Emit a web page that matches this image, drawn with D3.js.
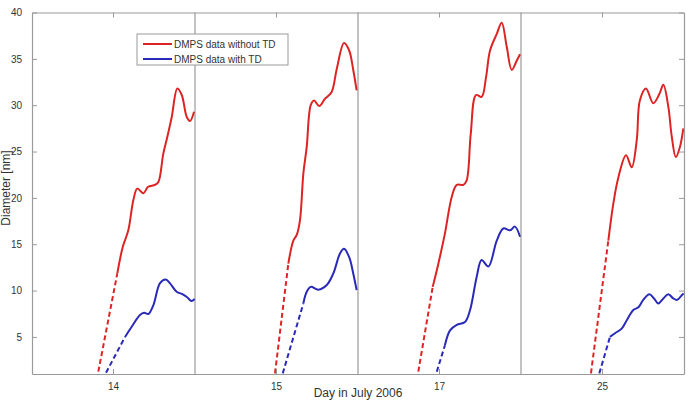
<!DOCTYPE html>
<html>
<head>
<meta charset="utf-8">
<script src="https://cdn.jsdelivr.net/npm/d3@7"></script>
<style>
  html, body { margin: 0; padding: 0; background: #fff; }
  svg { display: block; font-family: "Liberation Sans", Arial, sans-serif; }
</style>
</head>
<body>
<svg id="chart" width="692" height="400"></svg>
<script>
// ---- data ----
const days = ["14", "15", "17", "25"];
const yTicks = [5, 10, 15, 20, 25, 30, 35, 40];
const seriesNames = ["DMPS data without TD", "DMPS data with TD"];
const dashedPoints = 2; // leading points of each curve drawn dashed

// hour of day (within each day's panel) and diameter [nm]
const redHours = [
  [9.76, 12.56, 13.36, 14.18, 14.92, 15.5, 16.4, 17.1, 18.1, 18.6, 19.34, 19.93, 20.57, 21.4, 22.05, 22.8, 23.27, 23.86],
  [11.78, 13.74, 14.48, 14.98, 15.46, 15.95, 16.45, 17.04, 17.53, 18.3, 19.15, 20.1, 20.87, 21.94, 22.7, 23.3, 23.8],
  [8.88, 11.0, 11.83, 12.81, 13.8, 14.54, 15.5, 16.0, 16.6, 17.38, 18.2, 18.85, 19.44, 20.43, 21.16, 21.9, 22.64, 23.37, 23.86],
  [10.3, 12.86, 13.6, 14.3, 15.46, 16.3, 17.04, 17.5, 18.4, 19.48, 20.37, 20.96, 21.7, 22.2, 22.8, 23.4, 23.9]
];
const redValues = [
  [1.25, 11.85, 14.7, 16.5, 19.75, 21.0, 20.5, 21.2, 21.4, 21.7, 24.8, 26.6, 28.7, 31.8, 31.1, 28.7, 28.3, 29.3],
  [1.07, 12.9, 15.4, 16.0, 17.6, 22.6, 25.5, 30.0, 30.5, 29.9, 30.7, 31.4, 33.9, 36.7, 35.9, 33.8, 31.6],
  [1.25, 10.4, 12.9, 16.2, 20.1, 21.4, 21.4, 21.9, 26.9, 31.1, 30.9, 33.0, 35.9, 37.7, 38.9, 36.3, 33.8, 34.8, 35.5],
  [1.07, 15.4, 19.4, 22.1, 24.6, 23.3, 26.2, 30.5, 31.8, 30.2, 31.2, 32.2, 29.8, 26.6, 24.4, 25.5, 27.5]
];
const blueHours = [
  [10.9, 13.7, 14.68, 15.9, 16.5, 17.13, 17.86, 18.85, 19.7, 20.3, 21.3, 22.2, 22.8, 23.5, 23.95],
  [12.92, 15.95, 16.45, 17.04, 18.16, 19.4, 20.37, 21.35, 21.94, 22.7, 23.3, 23.8],
  [11.6, 12.8, 13.55, 14.54, 15.76, 16.5, 17.48, 18.2, 19.2, 20.43, 21.4, 22.39, 23.1, 23.86],
  [11.53, 13.1, 13.84, 14.83, 15.57, 16.54, 17.28, 18.0, 18.9, 19.59, 20.22, 20.96, 21.7, 22.43, 23.0, 23.67, 23.95]
];
const blueValues = [
  [1.14, 5.0, 6.1, 7.36, 7.6, 7.47, 8.4, 10.8, 11.2, 10.8, 9.87, 9.6, 9.3, 8.87, 9.1],
  [1.07, 8.6, 9.87, 10.4, 10.1, 10.6, 11.85, 14.0, 14.5, 13.6, 11.85, 10.05],
  [1.25, 4.1, 5.7, 6.3, 6.6, 7.9, 11.5, 13.3, 12.6, 15.4, 16.7, 16.5, 16.9, 15.8],
  [1.07, 5.0, 5.4, 5.9, 6.8, 7.9, 8.2, 9.0, 9.6, 9.15, 8.6, 9.15, 9.6, 9.15, 9.0, 9.5, 9.7]
];

// ---- layout ----
const W = 692, H = 400;
const margin = { top: 12.5, right: 8, bottom: 26, left: 32 };
const svg = d3.select("#chart");
const innerW = W - margin.left - margin.right;
const innerH = H - margin.top - margin.bottom;
const g = svg.append("g").attr("transform", `translate(${margin.left},${margin.top})`);

const axisColor = "#9a9a9a";
const textColor = "#333";
const red = "#dd2424";
const blue = "#2a2ab8";

const xDay = d3.scaleBand().domain(days).range([0, innerW]).paddingInner(0).paddingOuter(0);
const xHour = d3.scaleLinear().domain([0, 24]).range([0, xDay.bandwidth()]);
const y = d3.scaleLinear().domain([1, 40]).range([innerH, 0]);

// clip
svg.append("defs").append("clipPath").attr("id", "panelClip")
  .append("rect").attr("x", 0).attr("y", 0).attr("width", xDay.bandwidth()).attr("height", innerH);

// panel separators
g.selectAll("line.sep").data(days.slice(1)).join("line")
  .attr("class", "sep")
  .attr("x1", d => xDay(d)).attr("x2", d => xDay(d))
  .attr("y1", 0).attr("y2", innerH)
  .attr("stroke", axisColor).attr("stroke-width", 1.2);

// curves
const line = d3.line().x(d => xHour(d[0])).y(d => y(d[1])).curve(d3.curveCatmullRom.alpha(0.5));
const series = [
  { hours: redHours, values: redValues, color: red },
  { hours: blueHours, values: blueValues, color: blue }
];
days.forEach((day, i) => {
  const pg = g.append("g").attr("transform", `translate(${xDay(day)},0)`)
    .append("g").attr("clip-path", "url(#panelClip)");
  series.forEach(s => {
    const pts = s.hours[i].map((h, k) => [h, s.values[i][k]]);
    pg.append("path")
      .attr("d", line(pts.slice(0, dashedPoints)))
      .attr("fill", "none").attr("stroke", s.color).attr("stroke-width", 2)
      .attr("stroke-dasharray", "5,3");
    pg.append("path")
      .attr("d", line(pts.slice(dashedPoints - 1)))
      .attr("fill", "none").attr("stroke", s.color).attr("stroke-width", 2)
      .attr("stroke-linejoin", "round");
  });
});

// axes (MATLAB-style box with inward ticks)
function styleAxis(sel, showText) {
  sel.select(".domain").attr("stroke", axisColor).attr("stroke-width", 1.2);
  sel.selectAll(".tick line").attr("stroke", axisColor).attr("stroke-width", 1);
  sel.selectAll(".tick text").attr("fill", textColor).attr("font-size", 10)
    .style("display", showText ? null : "none");
}
g.append("g").attr("transform", `translate(0,${innerH})`)
  .call(d3.axisBottom(xDay).tickSizeInner(-5).tickSizeOuter(0).tickPadding(9))
  .call(sel => styleAxis(sel, true));
g.append("g")
  .call(d3.axisTop(xDay).tickSizeInner(-5).tickSizeOuter(0))
  .call(sel => styleAxis(sel, false));
g.append("g")
  .call(d3.axisLeft(y).tickValues(yTicks).tickSizeInner(-5).tickSizeOuter(0).tickPadding(10).tickFormat(d3.format("d")))
  .call(sel => styleAxis(sel, true));
g.append("g").attr("transform", `translate(${innerW},0)`)
  .call(d3.axisRight(y).tickValues(yTicks).tickSizeInner(-5).tickSizeOuter(0))
  .call(sel => styleAxis(sel, false));

// axis titles
svg.append("text")
  .attr("x", margin.left + innerW / 2).attr("y", 396.5)
  .attr("text-anchor", "middle").attr("fill", textColor).attr("font-size", 12)
  .text("Day in July 2006");
svg.append("text")
  .attr("transform", `translate(10,188) rotate(-90)`)
  .attr("text-anchor", "middle").attr("fill", textColor).attr("font-size", 12)
  .text("Diameter [nm]");

// legend
const lg = svg.append("g").attr("transform", "translate(137,34)");
lg.append("rect").attr("width", 151).attr("height", 31)
  .attr("fill", "#fff").attr("stroke", axisColor).attr("stroke-width", 1);
seriesNames.forEach((name, i) => {
  const yy = 10 + i * 15;
  lg.append("line").attr("x1", 6).attr("x2", 35).attr("y1", yy).attr("y2", yy)
    .attr("stroke", [red, blue][i]).attr("stroke-width", 2);
  lg.append("text").attr("x", 37).attr("y", yy + 3.5)
    .attr("fill", textColor).attr("font-size", 10).text(name);
});
</script>
</body>
</html>
